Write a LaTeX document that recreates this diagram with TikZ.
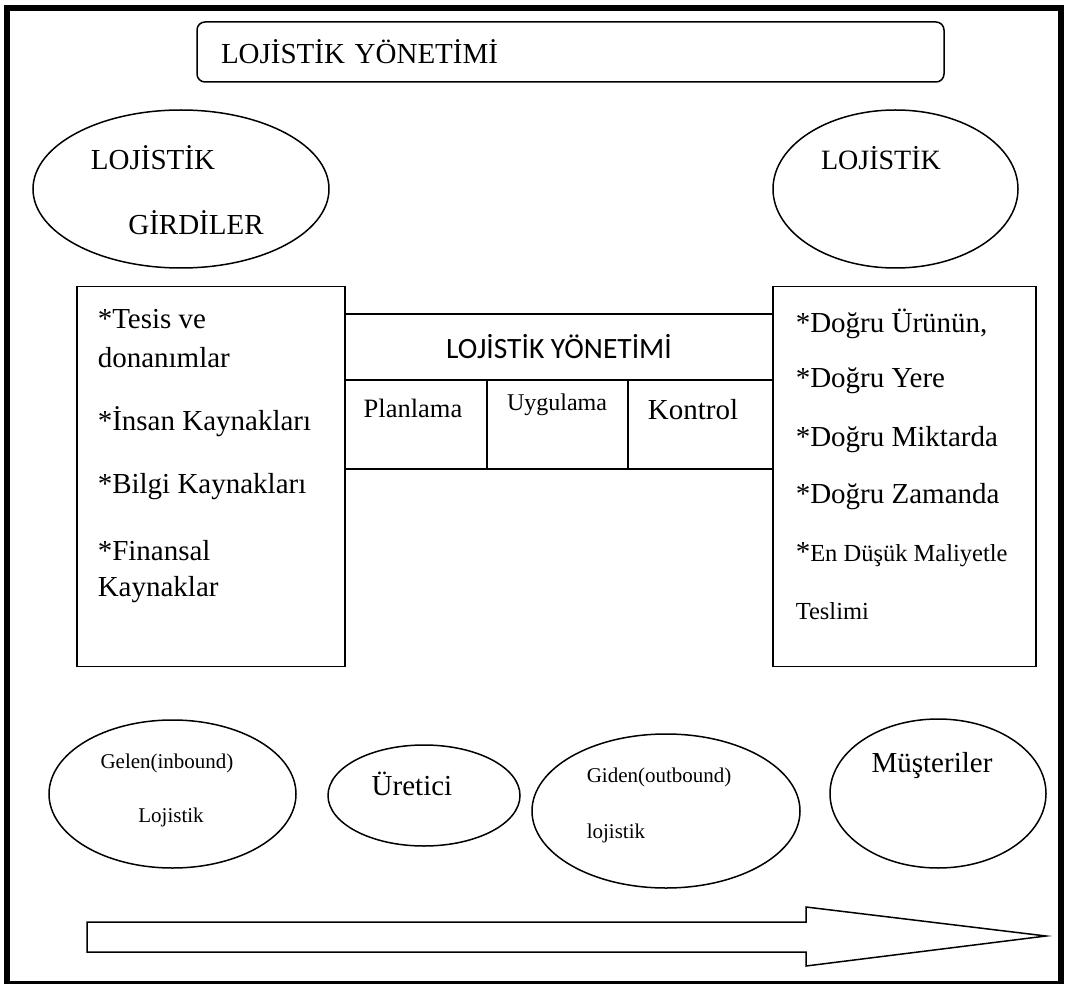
\documentclass[tikz,border=0pt]{standalone}
\usepackage{fontspec}
\setmainfont{Liberation Serif}
\newfontfamily\calibri{Carlito}
\usetikzlibrary{shapes.geometric}

\begin{document}
\begin{tikzpicture}[
    x=1pt, y=-1pt, line width=1.5pt,
    oval/.style={draw, ellipse, inner sep=0pt},
    listbox/.style={draw, rectangle, minimum height=380pt, inner sep=0pt},
    cell/.style={draw, rectangle, minimum height=89pt, inner sep=0pt},
    txt/.style={inner sep=0pt, font=\fontsize{29}{34}\selectfont},
    midtxt/.style={inner sep=0pt, font=\fontsize{24.5}{29}\selectfont},
    smalltxt/.style={inner sep=0pt, font=\fontsize{21}{25}\selectfont}
]

\useasboundingbox (0,0) rectangle (1068,984);
\draw[line width=6pt] (7,982) -- (7,8) -- (1061,8) -- (1061,982);
\draw[line width=3pt] (4,982) -- (1064,982);

\node[draw, rounded corners=8pt, text width=723pt, inner xsep=12pt, minimum height=60pt, align=left, font=\fontsize{29}{35}\selectfont] (title) at (570.5,52) {\hspace*{12pt}LOJİSTİK YÖNETİMİ};

% ust elipsler
\node[oval, minimum width=296pt, minimum height=158pt] (girdi) at (181,189) {};
\node[txt] (girdi1) at (153,158) {LOJİSTİK};
\node[txt] (girdi2) at (196,223) {GİRDİLER};
\node[oval, minimum width=245pt, minimum height=158pt] (cikti) at (895.5,189) {};
\node[txt, font=\fontsize{28}{34}\selectfont] (cikti1) at (881,158) {LOJİSTİK};

% kaynaklar
\node[listbox, minimum width=268pt] (kaynak) at (211,476.5) {};
\node[txt, anchor=west] (k1) at (97,319) {*Tesis ve};
\node[txt, anchor=west] (k2) at (97,358) {donanımlar};
\node[txt, anchor=west] (k3) at (97,422) {*İnsan Kaynakları};
\node[txt, anchor=west] (k4) at (97,487) {*Bilgi Kaynakları};
\node[txt, anchor=west] (k5) at (97,551) {*Finansal};
\node[txt, anchor=west] (k6) at (97,590) {Kaynaklar};

% yonetim
\node[draw, minimum width=428pt, minimum height=66pt, inner sep=0pt, font=\calibri\fontsize{29.5}{35}\selectfont] (yonetim) at (559,347) {LOJİSTİK YÖNETİMİ};
\node[cell, minimum width=142pt] (plan) at (416,424.5) {};
\node[cell, minimum width=141pt] (uyg) at (557.5,424.5) {};
\node[cell, minimum width=145pt] (kont) at (700.5,424.5) {};
\node[txt, font=\fontsize{26.5}{32}\selectfont] (plantxt) at (413,408) {Planlama};
\node[txt, font=\fontsize{24}{29}\selectfont] (uygtxt) at (557,405) {Uygulama};
\node[txt] (konttxt) at (693,410) {Kontrol};

% sonuclar
\node[listbox, minimum width=263pt] (sonuc) at (904.5,476.5) {};
\node[txt, anchor=west] (s1) at (795,324) {*Doğru Ürünün,};
\node[txt, anchor=west] (s2) at (795,381) {*Doğru Yere};
\node[txt, anchor=west] (s3) at (795,440) {*Doğru Miktarda};
\node[txt, anchor=west] (s4) at (795,497) {*Doğru Zamanda};
\node[midtxt, anchor=west] (s5) at (795,555) {{\fontsize{29}{34}\selectfont*}En Düşük Maliyetle};
\node[midtxt, anchor=west] (s6) at (795,611) {Teslimi};

% akis
\node[oval, minimum width=247pt, minimum height=148pt] (gelen) at (172.5,794) {};
\node[smalltxt] (gelen1) at (167,763) {Gelen(inbound)};
\node[smalltxt] (gelen2) at (171,817) {Lojistik};
\node[oval, minimum width=192pt, minimum height=101pt] (uretici) at (424,795.5) {};
\node[txt] (uretici1) at (412,784) {Üretici};
\node[oval, minimum width=268pt, minimum height=154pt] (giden) at (666,811) {};
\node[smalltxt, anchor=west] (giden1) at (586,777) {Giden(outbound)};
\node[smalltxt, anchor=west] (giden2) at (586,833) {lojistik};
\node[oval, minimum width=216pt, minimum height=149pt] (musteri) at (938,793.5) {};
\node[txt] (musteri1) at (932,766) {Müşteriler};

\draw (87,922) -- (806,922) -- (806,907) -- (1046,936) -- (806,966) -- (806,952) -- (87,952) -- cycle;

\end{tikzpicture}
\end{document}
